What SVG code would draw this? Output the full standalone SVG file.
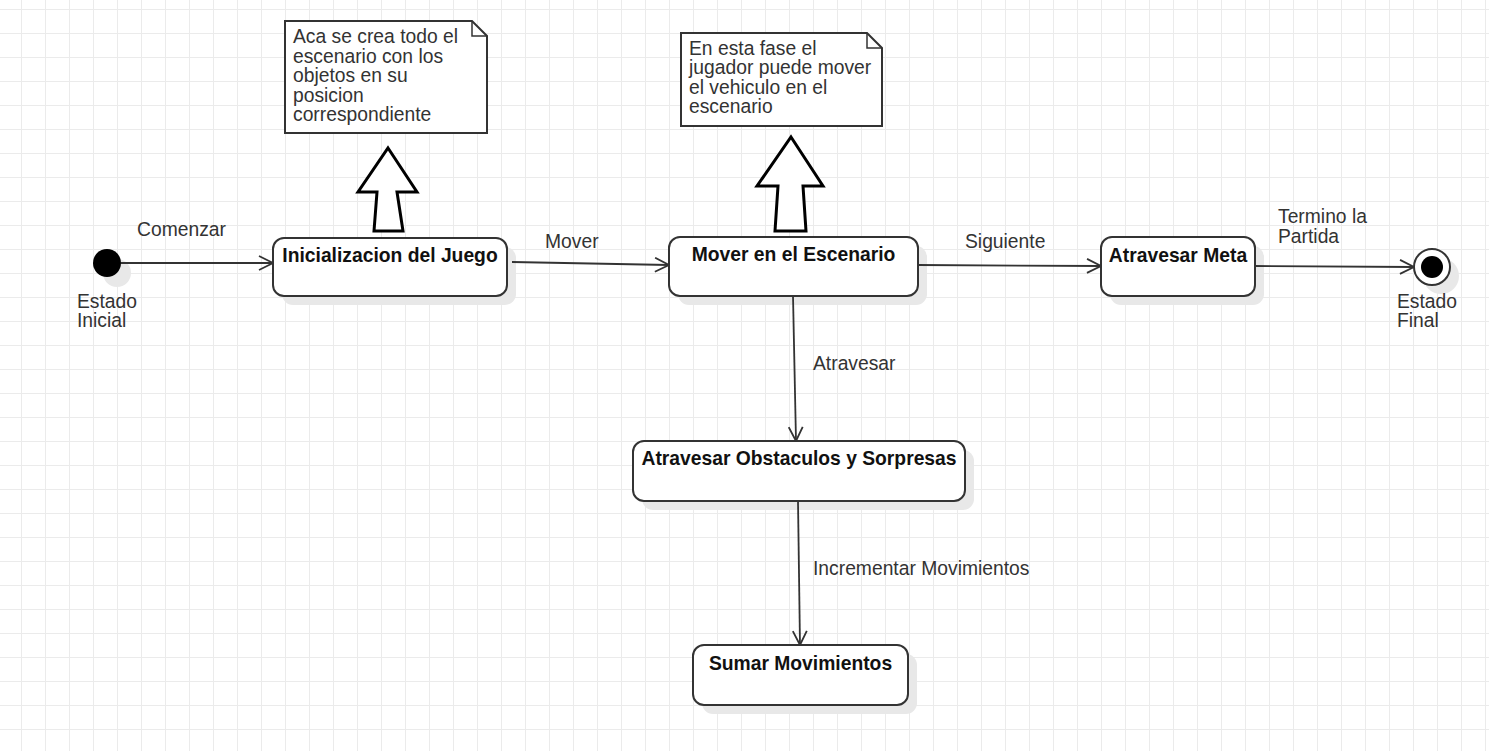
<svg xmlns="http://www.w3.org/2000/svg" width="1489" height="751" viewBox="0 0 1489 751">
<defs>
<pattern id="grid" width="24" height="24" patternUnits="userSpaceOnUse" x="21" y="9">
<path d="M0.5,0 V24 M0,0.5 H24" stroke="#ebebeb" stroke-width="1" fill="none"/>
</pattern>
<marker id="open" viewBox="0 0 16 16" refX="15" refY="8" markerWidth="16" markerHeight="16" markerUnits="userSpaceOnUse" orient="auto">
<path d="M1,1 L15,8 L1,15" fill="none" stroke="#333" stroke-width="1.8"/>
</marker>
</defs>
<style>
text{font-family:"Liberation Sans",Arial,sans-serif;font-size:19.3px;fill:#333}
.title{font-weight:bold;fill:#111;text-anchor:middle}
.box{fill:#fff;stroke:#333;stroke-width:2}
.shadow{fill:#e8e8e8}
.edge{fill:none;stroke:#333;stroke-width:1.8;marker-end:url(#open)}
.note{fill:#fff;stroke:#333;stroke-width:2}
.block{fill:#fff;stroke:#000;stroke-width:3;stroke-linejoin:miter}
</style>
<rect width="1489" height="751" fill="#fff"/>
<rect width="1489" height="751" fill="url(#grid)"/>

<g id="estado-inicial">
<circle class="shadow" cx="117" cy="273" r="14"/>
<circle cx="107" cy="263" r="14" fill="#000"/>
<text x="77" y="308">Estado</text>
<text x="77" y="327">Inicial</text>
</g>

<g id="inicializacion">
<rect class="shadow" x="282" y="247" width="234" height="58" rx="11"/>
<rect class="box" x="273" y="238" width="234" height="58" rx="11"/>
<text class="title" x="390" y="262">Inicializacion del Juego</text>
</g>

<g id="nota-inicializacion">
<path class="note" d="M285,21 H472 L487,36 V133 H285 Z"/>
<path d="M472,21 V36 H487" fill="none" stroke="#333" stroke-width="1.5"/>
<text x="293" y="43">Aca se crea todo el</text>
<text x="293" y="63">escenario con los</text>
<text x="293" y="82">objetos en su</text>
<text x="293" y="102">posicion</text>
<text x="293" y="121">correspondiente</text>
<path class="block" d="M388,148 L417,192 L397,192 L403,231 L374,231 L377,192 L358,192 Z"/>
</g>

<g id="mover">
<rect class="shadow" x="678" y="246" width="249" height="59" rx="11"/>
<rect class="box" x="669" y="237" width="249" height="59" rx="11"/>
<text class="title" x="793.5" y="261">Mover en el Escenario</text>
</g>

<g id="nota-mover">
<path class="note" d="M681,33 H867 L882,48 V126 H681 Z"/>
<path d="M867,33 V48 H882" fill="none" stroke="#333" stroke-width="1.5"/>
<text x="689" y="55">En esta fase el</text>
<text x="689" y="74">jugador puede mover</text>
<text x="689" y="94">el vehiculo en el</text>
<text x="689" y="113">escenario</text>
<path class="block" d="M791,137 L823,186 L803,186 L806,231 L775,231 L778,186 L757,186 Z"/>
</g>

<g id="atravesar-meta">
<rect class="shadow" x="1110" y="246" width="154" height="59" rx="11"/>
<rect class="box" x="1101" y="237" width="154" height="59" rx="11"/>
<text class="title" x="1178" y="262">Atravesar Meta</text>
</g>

<g id="estado-final">
<circle class="shadow" cx="1441" cy="276" r="18"/>
<circle cx="1432" cy="267" r="18" fill="#fff" stroke="#333" stroke-width="2"/>
<circle cx="1432" cy="267" r="11" fill="#000"/>
<text x="1397" y="308">Estado</text>
<text x="1397" y="327">Final</text>
</g>

<g id="obstaculos">
<rect class="shadow" x="642" y="450" width="332" height="60" rx="11"/>
<rect class="box" x="633" y="441" width="332" height="60" rx="11"/>
<text class="title" x="799" y="465">Atravesar Obstaculos y Sorpresas</text>
</g>

<g id="sumar">
<rect class="shadow" x="702" y="654" width="215" height="60" rx="11"/>
<rect class="box" x="693" y="645" width="215" height="60" rx="11"/>
<text class="title" x="800.5" y="670">Sumar Movimientos</text>
</g>

<g id="connectors">
<path class="edge" d="M121,263 L273,263"/>
<text x="137" y="236">Comenzar</text>
<path class="edge" d="M512,262 L669,265"/>
<text x="545" y="248">Mover</text>
<path class="edge" d="M918,265 L1101,266"/>
<text x="965" y="248">Siguiente</text>
<path class="edge" d="M1255,266 L1414,267"/>
<text x="1278" y="223">Termino la</text>
<text x="1278" y="243">Partida</text>
<path class="edge" d="M793,296 L796,441"/>
<text x="813" y="370">Atravesar</text>
<path class="edge" d="M798,501 L800,645"/>
<text x="813" y="575">Incrementar Movimientos</text>
</g>
</svg>
